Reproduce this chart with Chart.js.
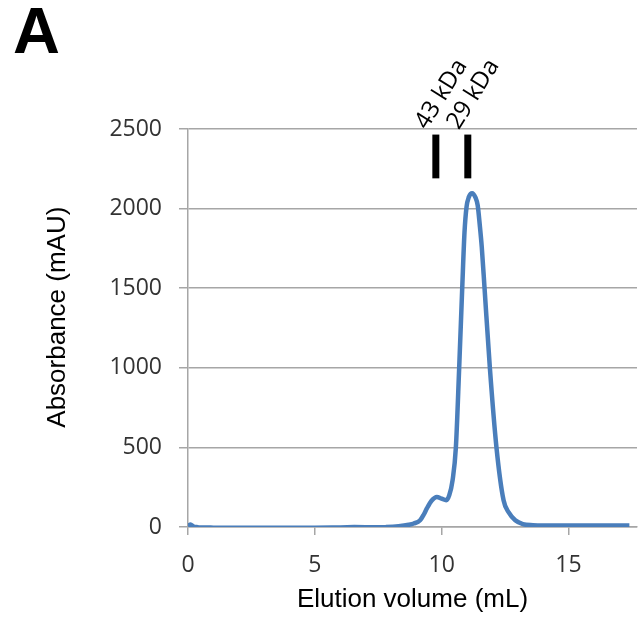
<!DOCTYPE html>
<html>
<head>
<meta charset="utf-8">
<script src="https://cdn.jsdelivr.net/npm/chart.js@4/dist/chart.umd.min.js"></script>
<style>
  html, body { margin: 0; padding: 0; background: #fff; }
  #wrap { position: relative; width: 638px; height: 619px; }
  #panel { position: absolute; left: 13px; top: -2px; font: bold 65px "Liberation Sans", Arial, sans-serif; line-height: 65px; color: #000; }
</style>
</head>
<body>
<div id="wrap">
  <canvas id="sec" width="638" height="619"></canvas>
  <div id="panel">A</div>
</div>
<script>
// elution profile
const volume = [0, 0.1, 0.2, 0.4, 1, 2, 3, 4, 5, 6, 7, 7.8, 8.3, 8.7, 8.9, 9.15, 9.3, 9.41, 9.6, 9.81,
  10.0, 10.18, 10.3, 10.43, 10.56, 10.69, 10.81, 10.9, 10.98, 11.07, 11.2, 11.33, 11.42, 11.5,
  11.58, 11.69, 11.9, 12.16, 12.44, 12.65, 12.9, 13.2, 13.6, 14, 15, 16, 17, 17.4];
const absorbance = [4, 16, 5, -2, -4, -5, -5, -4, -4, -3, -2, 0, 5, 14, 22, 42, 80, 115, 165, 189,
  178, 168, 200, 294, 500, 1000, 1500, 1850, 2010, 2072, 2097, 2070, 2020, 1900,
  1760, 1500, 1000, 500, 168, 90, 42, 18, 11, 9, 9, 9, 9, 9];

// size standards
const markerLabels = ['43 kDa', '29 kDa'];
const markerVolume = [9.77, 11.03];
const markerBottom = 2190;
const markerTop = 2465;

const xTicks = [0, 5, 10, 15];
const yTicks = [0, 500, 1000, 1500, 2000, 2500];

const curve = volume.map((v, i) => ({ x: v, y: absorbance[i] }));

const markerSets = markerVolume.map(v => ({
  data: [{ x: v, y: markerBottom }, { x: v, y: markerTop }],
  showLine: true,
  borderColor: '#000',
  borderWidth: 7,
  borderCapStyle: 'butt',
  pointRadius: 0,
  tension: 0
}));

// rotated labels above the markers
const markerText = {
  id: 'markerText',
  afterDatasetsDraw(chart) {
    const ctx = chart.ctx;
    const xs = chart.scales.x, ys = chart.scales.y;
    ctx.save();
    ctx.fillStyle = '#000';
    ctx.font = '24px "Open Sans"';
    ctx.textAlign = 'left';
    ctx.textBaseline = 'alphabetic';
    markerLabels.forEach((lab, i) => {
      const px = xs.getPixelForValue(markerVolume[i]);
      const py = ys.getPixelForValue(markerTop);
      ctx.save();
      ctx.translate(px - 9, py - 4);
      ctx.rotate(-58 * Math.PI / 180);
      ctx.fillText(lab, 0, 0);
      ctx.restore();
    });
    ctx.restore();
  }
};

const gridCol = '#a6a6a6';

new Chart(document.getElementById('sec').getContext('2d'), {
  type: 'scatter',
  data: {
    datasets: [{
      data: curve,
      showLine: true,
      borderColor: '#4a7ebb',
      borderWidth: 4.5,
      pointRadius: 0,
      cubicInterpolationMode: 'monotone'
    }].concat(markerSets)
  },
  options: {
    responsive: false,
    animation: false,
    layout: { padding: { top: 129, right: 1, left: 0, bottom: 0 } },
    plugins: { legend: { display: false }, tooltip: { enabled: false } },
    scales: {
      x: {
        type: 'linear',
        min: 0,
        max: 17.7,
        afterBuildTicks: s => { s.ticks = xTicks.map(v => ({ value: v })); },
        afterFit: s => { s.height = 92; },
        grid: { drawOnChartArea: false, drawTicks: true, tickLength: 8, color: gridCol, lineWidth: 1.5 },
        border: { color: gridCol, width: 1.5 },
        ticks: { color: '#333', padding: 17, font: { family: 'Open Sans', size: 23 }, callback: v => String(v) },
        title: {
          display: true,
          text: 'Elution volume (mL)',
          color: '#000',
          font: { family: 'Liberation Sans', size: 26 },
          padding: { top: 0, bottom: 4 }
        }
      },
      y: {
        min: 0,
        max: 2500,
        afterBuildTicks: s => { s.ticks = yTicks.map(v => ({ value: v })); },
        afterFit: s => { s.width = 188; },
        grid: { drawTicks: true, tickLength: 9, color: gridCol, lineWidth: 1.5 },
        border: { color: gridCol, width: 1.5 },
        ticks: { color: '#333', padding: 17, font: { family: 'Open Sans', size: 23 }, callback: v => String(v) },
        title: {
          display: true,
          // leading spaces nudge the title up to where it sits in the figure
          text: '   Absorbance (mAU)',
          color: '#000',
          font: { family: 'Liberation Sans', size: 26 },
          padding: { top: 42, bottom: 0 }
        }
      }
    }
  },
  plugins: [markerText]
});
</script>
</body>
</html>
